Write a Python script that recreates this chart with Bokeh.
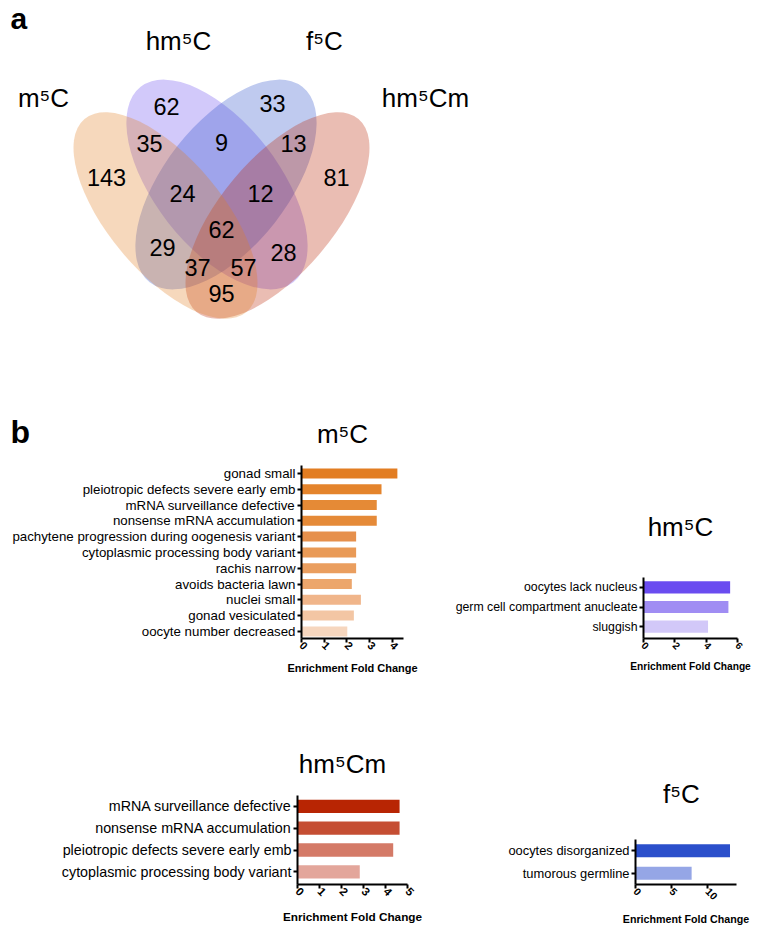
import math
from bokeh.plotting import figure
from bokeh.models import Range1d, Label, FixedTicker
from bokeh.layouts import column, row
from bokeh.embed import file_html
from bokeh.resources import INLINE
from bokeh.core.properties import value

FONT = "Liberation Sans"

# ---------------- data ----------------
set_names = ["m⁵C", "hm⁵C", "f⁵C", "hm⁵Cm"]
set_colors = ["#E27D22", "#6A4CF0", "#2B4FCB", "#B82503"]

region_keys = ["m", "h", "f", "hm", "m_h", "h_f", "f_hm", "m_h_f", "h_f_hm",
               "all", "m_f", "h_hm", "m_f_hm", "m_h_hm", "m_hm"]
region_counts = [143, 62, 33, 81, 35, 9, 13, 24, 12, 62, 29, 28, 37, 57, 95]

m5c_terms = ["gonad small", "pleiotropic defects severe early emb",
             "mRNA surveillance defective", "nonsense mRNA accumulation",
             "pachytene progression during oogenesis variant",
             "cytoplasmic processing body variant", "rachis narrow",
             "avoids bacteria lawn", "nuclei small", "gonad vesiculated",
             "oocyte number decreased"]
m5c_fold = [4.23, 3.53, 3.32, 3.32, 2.41, 2.41, 2.41, 2.22, 2.62, 2.31, 2.02]
m5c_colors = ["#E27D22", "#E4842C", "#E58A36", "#E58A38", "#E6904C", "#E99A56",
              "#EA9E5F", "#ECA66C", "#F0B58A", "#F3C6A4", "#F6D6BE"]

hm5c_terms = ["oocytes lack nucleus", "germ cell compartment anucleate", "sluggish"]
hm5c_fold = [5.53, 5.42, 4.12]
hm5c_colors = ["#6A4CF0", "#A08DF3", "#D2C8F8"]

hm5cm_terms = ["mRNA surveillance defective", "nonsense mRNA accumulation",
               "pleiotropic defects severe early emb",
               "cytoplasmic processing body variant"]
hm5cm_fold = [4.64, 4.64, 4.35, 2.83]
hm5cm_colors = ["#B82503", "#C54E33", "#D47A67", "#E3A69B"]

f5c_terms = ["oocytes disorganized", "tumorous germline"]
f5c_fold = [13.1, 7.78]
f5c_colors = ["#2B4FCB", "#95A6E6"]

x_label = "Enrichment Fold Change"

# ---------------- Venn + panel letters (page pixel coordinates) ----------------
VW, VH = 757, 450
venn = figure(width=VW, height=VH, x_range=Range1d(0, VW), y_range=Range1d(VH, 0),
              output_backend="svg", toolbar_location=None, min_border=0,
              x_axis_location=None, y_axis_location=None)
venn.grid.visible = False
venn.outline_line_color = None

# ellipse geometry per set (m5C, hm5C, f5C, hm5Cm)
ell_x = [165, 216.5, 225.5, 277]
ell_y = [215, 184, 184, 215]
ell_w = [252, 248, 248, 252]
ell_h = [114, 124, 124, 114]
ell_a = [-50, -52, 52, 50]
draw_order = [1, 2, 3, 0]   # hm5C, f5C, hm5Cm, then m5C on top
venn.ellipse(x=[ell_x[i] for i in draw_order], y=[ell_y[i] for i in draw_order],
             width=[ell_w[i] for i in draw_order], height=[ell_h[i] for i in draw_order],
             angle=[ell_a[i] for i in draw_order], angle_units="deg",
             fill_color=[set_colors[i] for i in draw_order], fill_alpha=0.3, line_color=None)

region_pos = {
    "m": (106, 177), "h": (166, 106), "f": (272, 103), "hm": (336, 177),
    "m_h": (149, 143), "h_f": (221, 142), "f_hm": (293, 143),
    "m_h_f": (182, 193), "h_f_hm": (260, 193), "all": (221, 229),
    "m_f": (162, 247), "h_hm": (283, 252), "m_f_hm": (197, 267),
    "m_h_hm": (243, 267), "m_hm": (221, 293),
}
venn.text(x=[region_pos[k][0] for k in region_keys], y=[region_pos[k][1] for k in region_keys],
          text=[str(c) for c in region_counts], text_align="center", text_baseline="middle",
          text_font=value(FONT), text_font_size="23.5px", text_color="black")

set_pos = [(43, 97), (178, 40), (324, 40), (425, 97)]
venn.text(x=[p[0] for p in set_pos], y=[p[1] for p in set_pos], text=set_names,
          text_align="center", text_baseline="middle",
          text_font=value(FONT), text_font_size="26px", text_color="black")
venn.text(x=[10], y=[17.5], text=["a"], text_align="left", text_baseline="middle",
          text_font=value(FONT), text_font_size="30px", text_font_style="bold", text_color="black")
venn.text(x=[10], y=[431], text=["b"], text_align="left", text_baseline="middle",
          text_font=value(FONT), text_font_size="32px", text_font_style="bold", text_color="black")
# title of the m5C bar panel (sits above that panel, at the level of "b")
venn.text(x=[342], y=[433], text=[set_names[0]], text_align="center", text_baseline="middle",
          text_font=value(FONT), text_font_size="26px", text_color="black")


# ---------------- bar panels ----------------
def bar_panel(terms, vals, colors, fig_box, frame, cat_top, band, xmax, ticks,
              ylab_size, xlab_size, tick_size, bar_h, xlab_standoff,
              title=None, title_pos=None):
    fx0, fy0, fw, fh = fig_box
    lx0, ly0, lx1, ly1 = frame
    n = len(terms)
    ypos = [n - k for k in range(n)]
    y_bot = n + 0.5 - (ly1 - cat_top) / band
    y_top = n + 0.5 - (ly0 - cat_top) / band
    p = figure(width=fw, height=fh, x_range=Range1d(0, xmax), y_range=Range1d(y_bot, y_top),
               output_backend="svg", toolbar_location=None,
               min_border_left=lx0 - fx0, min_border_right=fx0 + fw - lx1,
               min_border_top=ly0 - fy0, min_border_bottom=fy0 + fh - ly1)
    p.hbar(y=ypos, left=0, right=vals, height=bar_h, fill_color=colors, line_color=None)
    p.grid.visible = False
    p.outline_line_color = None
    for ax in (p.xaxis[0], p.yaxis[0]):
        ax.axis_line_width = 2
        ax.axis_line_color = "black"
        ax.major_tick_line_width = 2
        ax.major_tick_line_color = "black"
        ax.major_tick_out = 4
        ax.major_tick_in = 0
        ax.minor_tick_line_color = None
    p.yaxis.ticker = FixedTicker(ticks=ypos)
    p.yaxis.major_label_overrides = {y: t for y, t in zip(ypos, terms)}
    p.yaxis.bounds = (y_bot, n + 0.5)
    p.yaxis.major_label_text_font = FONT
    p.yaxis.major_label_text_font_size = ylab_size
    p.yaxis.major_label_text_color = "black"
    p.yaxis.major_label_standoff = 2
    p.xaxis.ticker = FixedTicker(ticks=ticks)
    p.xaxis.major_label_orientation = -math.pi / 4
    p.xaxis.major_label_text_font = FONT
    p.xaxis.major_label_text_font_style = "bold"
    p.xaxis.major_label_text_font_size = tick_size
    p.xaxis.major_label_text_color = "black"
    p.xaxis.major_label_standoff = 1
    p.xaxis.axis_label = x_label
    p.xaxis.axis_label_text_font = FONT
    p.xaxis.axis_label_text_font_style = "bold"
    p.xaxis.axis_label_text_font_size = xlab_size
    p.xaxis.axis_label_text_color = "black"
    p.xaxis.axis_label_standoff = xlab_standoff

    if title is not None:
        tx = (title_pos[0] - lx0) / (lx1 - lx0) * xmax
        ty = n + 0.5 - (title_pos[1] - cat_top) / band
        p.add_layout(Label(x=tx, y=ty, text=title, text_font=FONT, text_font_size="26px",
                           text_align="center", text_baseline="middle", text_color="black"))
    return p


# row 2: page y 450..689, frames y 465..638 ; row 3: page y 689..930, frames y 745..884
p_m5c = bar_panel(m5c_terms, m5c_fold, m5c_colors, (0, 450, 430, 239), (301, 465, 403, 638),
                  465, 15.8, 4.5, [0, 1, 2, 3, 4], "13.3px", "11px", "11px", 0.63, 6)
p_hm5c = bar_panel(hm5c_terms, hm5c_fold, hm5c_colors, (430, 450, 327, 239), (643, 465, 737, 638),
                   577, 19.67, 6, [0, 2, 4, 6], "12.3px", "10.2px", "10px", 0.62, 5,
                   set_names[1], (680, 526))
p_hm5cm = bar_panel(hm5cm_terms, hm5cm_fold, hm5cm_colors, (0, 689, 430, 241), (297, 745, 407, 884),
                    795, 21.8, 5, [0, 1, 2, 3, 4, 5], "14.3px", "11.75px", "11.5px", 0.61, 7,
                    set_names[3], (342, 763))
p_f5c = bar_panel(f5c_terms, f5c_fold, f5c_colors, (430, 689, 327, 241), (635, 745, 736, 884),
                  839, 22.5, 14, [0, 5, 10], "12.9px", "10.7px", "10.5px", 0.58, 7,
                  set_names[2], (681, 793))

layout = column(venn, row(p_m5c, p_hm5c), row(p_hm5cm, p_f5c))
open("out.html", "w").write(file_html(layout, INLINE))
